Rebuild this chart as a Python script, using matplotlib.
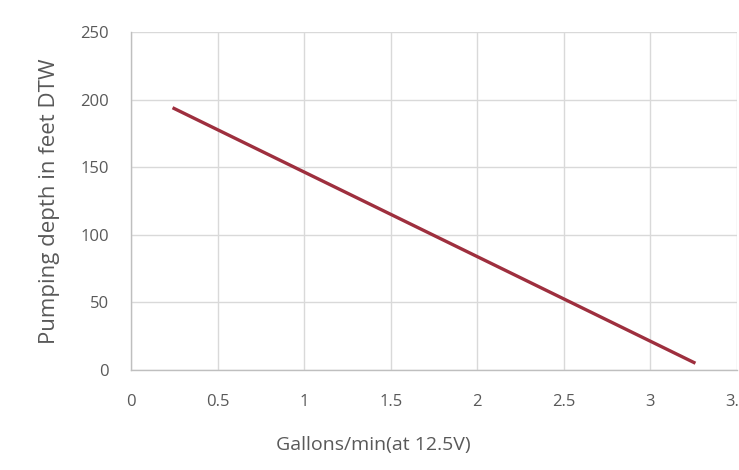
import matplotlib
matplotlib.use("Agg")
import matplotlib.pyplot as plt

gallons = [0.24, 3.26]
depth = [194, 5]
xticks = [0, 0.5, 1, 1.5, 2, 2.5, 3, 3.5]
yticks = [0, 50, 100, 150, 200, 250]

plt.rcParams['font.family'] = ['Open Sans', 'DejaVu Sans']
fig = plt.figure(figsize=(7.39, 4.70), dpi=100)
ax = fig.add_axes([131/739, 100/470, 606/739, 338/470])
ax.plot(gallons, depth, color='#9e2f3e', lw=2.4, solid_capstyle='butt')
ax.set_xlim(0, 3.5)
ax.set_ylim(0, 250)
ax.set_xticks(xticks)
ax.set_xticklabels([f"{t:g}" for t in xticks])
ax.set_yticks(yticks)
ax.grid(True, color='#d9d9d9', lw=1)
ax.set_axisbelow(True)
for s in ['top', 'right']:
    ax.spines[s].set_visible(False)
for s in ['left', 'bottom']:
    ax.spines[s].set_color('#bfbfbf')
    ax.spines[s].set_linewidth(1)
ax.tick_params(length=0, colors='#595959', labelsize=12)
ax.tick_params(axis='x', pad=17)
ax.tick_params(axis='y', pad=16)
ax.set_xlabel('Gallons/min(at 12.5V)', color='#595959', fontsize=14)
ax.set_ylabel('Pumping depth in feet DTW', color='#595959', fontsize=16)
ax.xaxis.set_label_coords(0.40, -0.195)
ax.yaxis.set_label_coords(-0.135, 0.50)
ax.yaxis.label.set_va('center')
fig.savefig('out.png', dpi=100)
